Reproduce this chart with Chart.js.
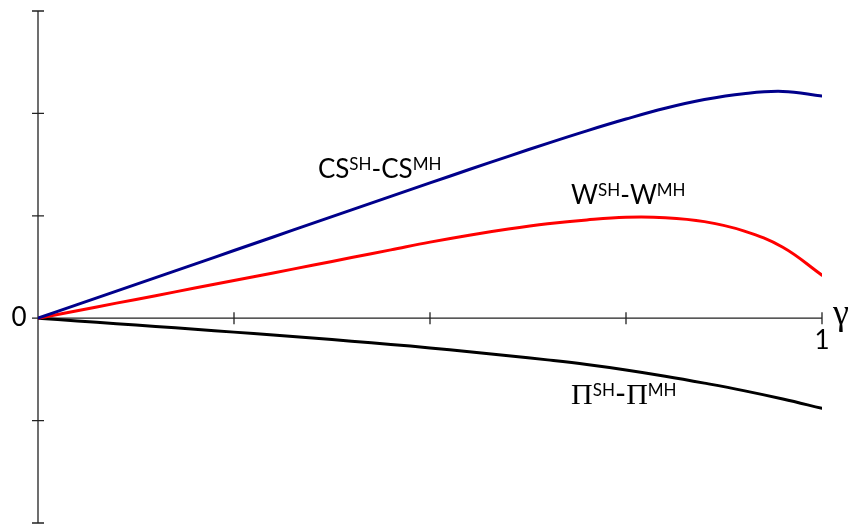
<!DOCTYPE html>
<html>
<head>
<meta charset="utf-8">
<title>SH - MH differences</title>
<script src="https://cdn.jsdelivr.net/npm/chart.js@4.4.0/dist/chart.umd.min.js"></script>
<style>
  html, body { margin: 0; padding: 0; background: #fff; }
  #wrap { width: 849px; height: 527px; }
</style>
</head>
<body>
<div id="wrap"><canvas id="diffChart"></canvas></div>
<script>
// values, gamma on x
const gamma = [0, 0.05, 0.1, 0.15, 0.2, 0.25, 0.3, 0.35, 0.4, 0.45, 0.5,
               0.55, 0.6, 0.65, 0.7, 0.75, 0.8, 0.85, 0.9, 0.95, 1];
const csDiff = [0, 0.132, 0.264, 0.396, 0.528, 0.661, 0.793, 0.926, 1.058, 1.19, 1.321,
                1.452, 1.581, 1.708, 1.83, 1.945, 2.05, 2.135, 2.193, 2.215, 2.17];
const wDiff = [0, 0.073, 0.147, 0.22, 0.294, 0.368, 0.442, 0.517, 0.592, 0.667, 0.743,
               0.811, 0.871, 0.922, 0.96, 0.985, 0.981, 0.943, 0.853, 0.693, 0.42];
const piDiff = [0, -0.027, -0.054, -0.081, -0.108, -0.136, -0.164, -0.193, -0.224, -0.256, -0.29,
                -0.327, -0.366, -0.407, -0.452, -0.505, -0.566, -0.634, -0.707, -0.789, -0.88];
const xTicks = [0.25, 0.5, 0.75, 1];
const yTicks = [-2, -1, 0, 1, 2, 3];

const pts = arr => gamma.map((g, i) => ({ x: g, y: arr[i] }));

// curve captions: main letter + superscripts
const captions = [
  { base: 'CS', at: [0.357, 1.37], font: 'Lato', size: 26, supSize: 17 },
  { base: 'W', at: [0.68, 1.116], font: 'Lato', size: 26, supSize: 17 },
  { base: '\u03A0', at: [0.68, -0.837], font: 'Liberation Serif', size: 30, supSize: 17 }
];

const axesPlugin = {
  id: 'axesPlugin',
  beforeDatasetsDraw(chart) {
    const { ctx, scales: { x, y } } = chart;
    const x0 = x.getPixelForValue(0);
    const y0 = y.getPixelForValue(0);
    ctx.save();
    ctx.strokeStyle = '#222';
    ctx.lineWidth = 1.3;
    ctx.beginPath();
    // vertical axis
    ctx.moveTo(x0, y.getPixelForValue(3));
    ctx.lineTo(x0, y.getPixelForValue(-2));
    for (const t of yTicks) {
      const py = y.getPixelForValue(t);
      ctx.moveTo(x0 - 6, py);
      ctx.lineTo(x0 + 6, py);
    }
    // horizontal axis
    ctx.moveTo(x0, y0);
    ctx.lineTo(x.getPixelForValue(1), y0);
    for (const t of xTicks) {
      const px = x.getPixelForValue(t);
      ctx.moveTo(px, y0 - 6);
      ctx.lineTo(px, y0 + 6);
    }
    ctx.stroke();
    ctx.restore();
  },
  afterDatasetsDraw(chart) {
    const { ctx, scales: { x, y } } = chart;
    const y0 = y.getPixelForValue(0);
    ctx.save();
    ctx.fillStyle = '#000';
    ctx.textAlign = 'center';
    ctx.textBaseline = 'middle';
    ctx.font = '26px Lato';
    ctx.fillText('0', x.getPixelForValue(0) - 19, y0 - 1);
    ctx.fillText('1', x.getPixelForValue(1), y0 + 22);
    ctx.font = '36px "Liberation Serif"';
    ctx.fillText('\u03B3', x.getPixelForValue(1) + 19, y0 - 4);

    ctx.textAlign = 'left';
    ctx.textBaseline = 'alphabetic';
    for (const c of captions) {
      let px = x.getPixelForValue(c.at[0]);
      const py = y.getPixelForValue(c.at[1]);
      const parts = [[c.base, false], ['SH', true], ['-', false], [c.base, false], ['MH', true]];
      for (const [txt, sup] of parts) {
        ctx.font = sup ? `${c.supSize}px Lato` : (txt === '-' ? `${c.size}px Lato` : `${c.size}px ${c.font}`);
        ctx.fillText(txt, px, sup ? py - 8 : py);
        px += ctx.measureText(txt).width;
      }
    }
    ctx.restore();
  }
};

new Chart(document.getElementById('diffChart'), {
  type: 'line',
  data: {
    datasets: [
      { label: 'CS', data: pts(csDiff), borderColor: '#00008b', borderWidth: 3 },
      { label: 'W', data: pts(wDiff), borderColor: '#ff0000', borderWidth: 3 },
      { label: 'Pi', data: pts(piDiff), borderColor: '#000000', borderWidth: 3 }
    ]
  },
  options: {
    responsive: true,
    maintainAspectRatio: false,
    animation: false,
    layout: { padding: { left: 38, right: 27, top: 11, bottom: 4 } },
    elements: {
      point: { radius: 0 },
      line: { tension: 0.4, fill: false, borderCapStyle: 'round' }
    },
    scales: {
      x: { type: 'linear', min: 0, max: 1, display: false },
      y: { type: 'linear', min: -2, max: 3, display: false }
    },
    plugins: { legend: { display: false }, tooltip: { enabled: false } }
  },
  plugins: [axesPlugin]
});
</script>
</body>
</html>
